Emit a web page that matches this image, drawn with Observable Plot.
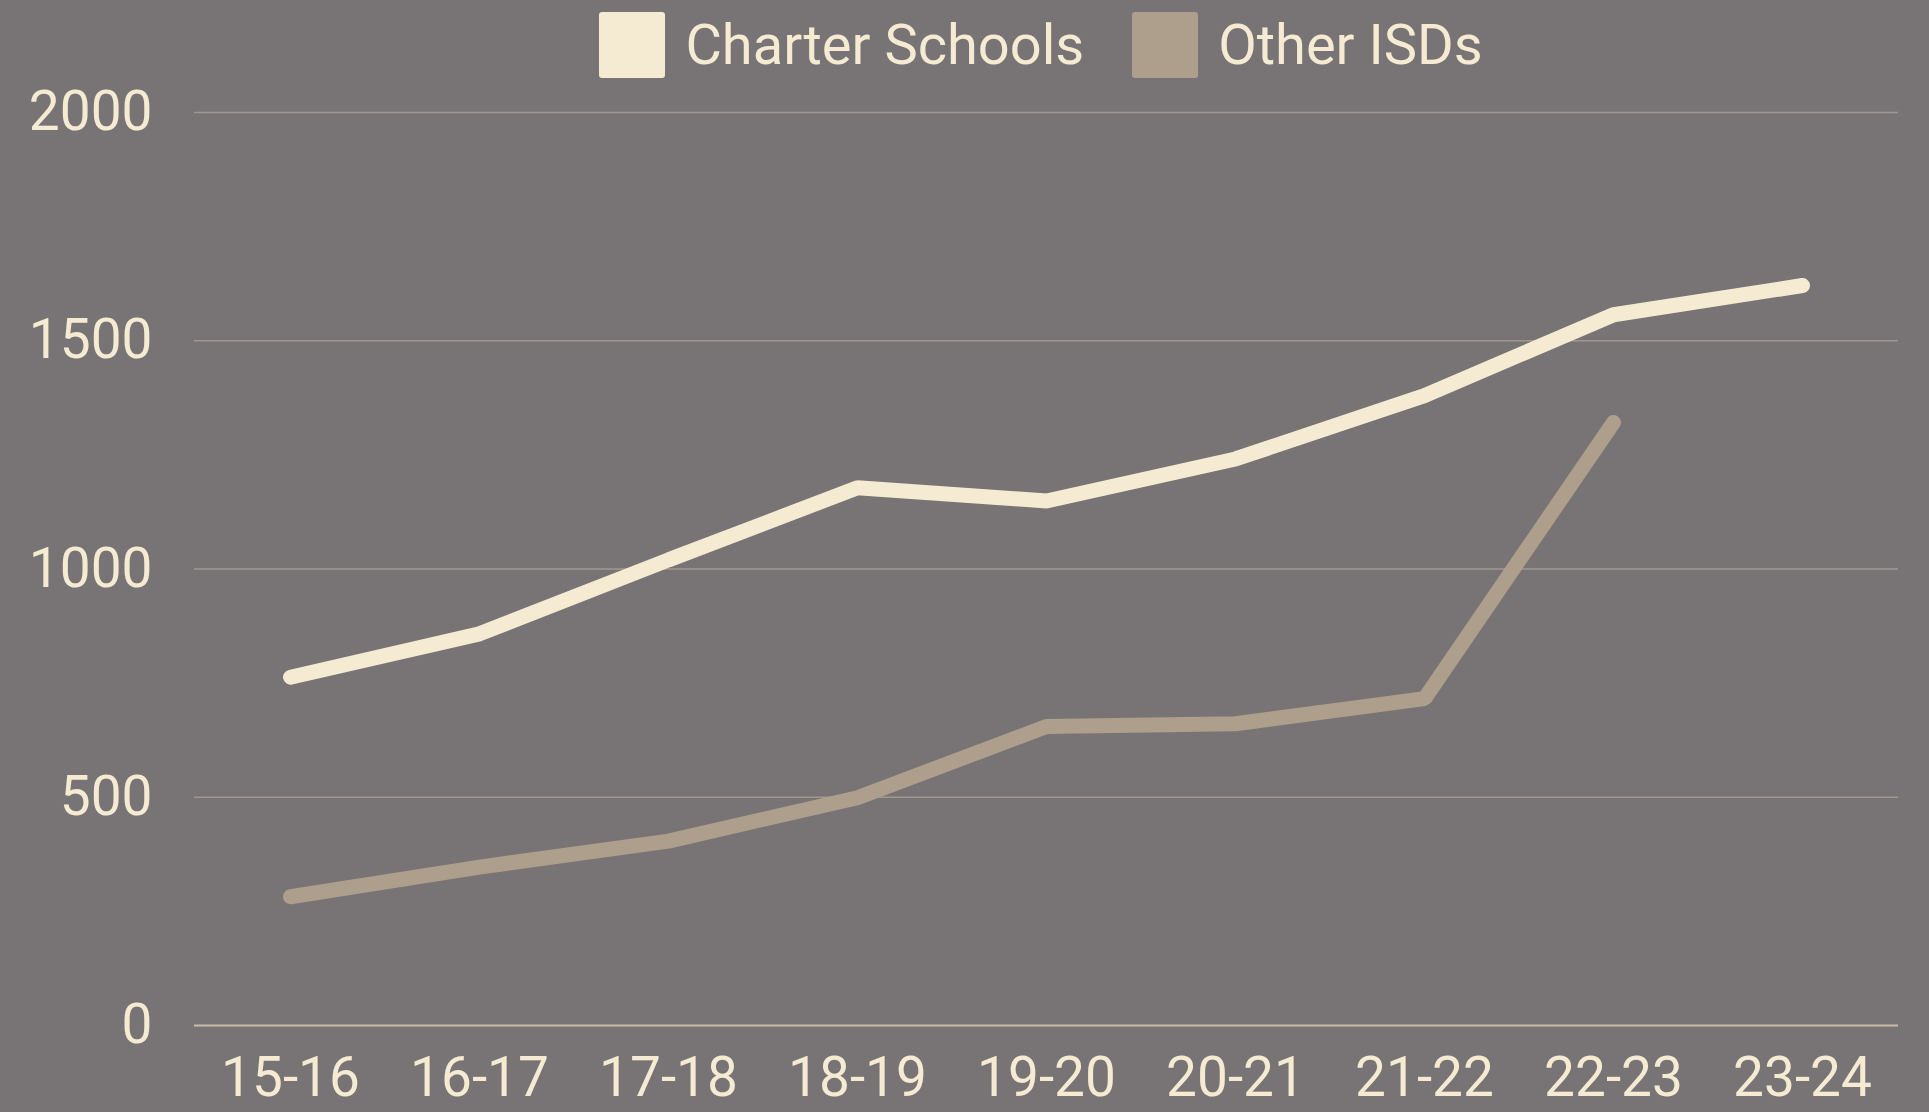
<!DOCTYPE html>
<html>
<head>
<meta charset="utf-8">
<script src="https://cdn.jsdelivr.net/npm/d3@7"></script>
<script src="https://cdn.jsdelivr.net/npm/@observablehq/plot@0.6"></script>
<style>
  html, body { margin: 0; padding: 0; background: #787374; }
  body { width: 1929px; height: 1112px; overflow: hidden; font-family: Roboto, sans-serif; }
  #legend { height: 60px; overflow: visible; box-sizing: border-box; padding-top: 12px; margin-left: 184px; margin-right: 31px;
            display: flex; justify-content: center; align-items: flex-start; position: relative; z-index: 1; }
  .item { display: flex; align-items: center; height: 66px; margin: 0 24px; }
  .sw { width: 66px; height: 66px; border-radius: 3px; margin-right: 20px; }
  .lab { font-size: 56px; color: #f5ead2; line-height: 66px; }
  #chart svg { display: block; }
</style>
</head>
<body>
<div id="legend"></div>
<div id="chart"></div>
<script>
const years = ["15-16", "16-17", "17-18", "18-19", "19-20", "20-21", "21-22", "22-23", "23-24"];
const seriesNames = ["Charter Schools", "Other ISDs"];
const seriesColors = ["#f5ead2", "#ae9e8c"];
const charterSchools = [763, 858, 1020, 1178, 1149, 1241, 1380, 1557, 1621];
const otherISDs = [282, 347, 404, 499, 655, 661, 716, 1321];
const yTicks = [0, 500, 1000, 1500, 2000];

const data = [];
charterSchools.forEach((v, i) => data.push({year: years[i], value: v, series: seriesNames[0]}));
otherISDs.forEach((v, i) => data.push({year: years[i], value: v, series: seriesNames[1]}));

// legend
const legend = document.getElementById("legend");
seriesNames.forEach((name, i) => {
  const item = document.createElement("div");
  item.className = "item";
  const sw = document.createElement("div");
  sw.className = "sw";
  sw.style.background = seriesColors[i];
  const lab = document.createElement("span");
  lab.className = "lab";
  lab.textContent = name;
  item.appendChild(sw);
  item.appendChild(lab);
  legend.appendChild(item);
});

const chart = Plot.plot({
  width: 1929,
  height: 1052,
  marginLeft: 194,
  marginRight: 31,
  marginTop: 52,
  marginBottom: 87,
  style: {background: "transparent", color: "#f5ead2", fontFamily: "Roboto, sans-serif", fontSize: "54px", overflow: "visible"},
  x: {type: "point", domain: years, padding: 0.5},
  y: {domain: [0, 2000]},
  color: {domain: seriesNames, range: seriesColors},
  marks: [
    Plot.gridY(yTicks.filter(d => d > 0), {stroke: "#a1978f", strokeOpacity: 1, strokeWidth: 1.5}),
    Plot.ruleY([0], {stroke: "#c9bda9", strokeWidth: 2}),
    Plot.axisY(yTicks, {tickSize: 0, tickPadding: 42, fontSize: 55, fill: "#f5ead2", label: null, tickFormat: d => String(d)}),
    Plot.axisX(years, {tickSize: 0, tickPadding: 31, fontSize: 55, fill: "#f5ead2", label: null}),
    Plot.line(data, {x: "year", y: "value", z: "series", stroke: "series", strokeWidth: 15,
                     strokeLinecap: "round", strokeLinejoin: "miter"})
  ]
});
document.getElementById("chart").appendChild(chart);
</script>
</body>
</html>
